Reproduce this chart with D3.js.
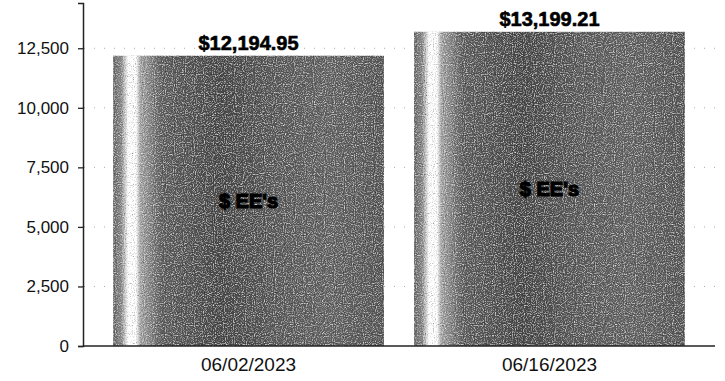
<!DOCTYPE html>
<html>
<head>
<meta charset="utf-8">
<script src="https://cdn.jsdelivr.net/npm/d3@7"></script>
<style>
  html, body { margin: 0; padding: 0; background: #fff; }
  svg { display: block; }
</style>
</head>
<body>
<script>
// ---- data ----
const categories = ["06/02/2023", "06/16/2023"];
const values = [12194.95, 13199.21];
const valueLabels = ["$12,194.95", "$13,199.21"];
const seriesName = "$ EE's";
const yTicks = [0, 2500, 5000, 7500, 10000, 12500];

// ---- layout ----
const W = 725, H = 381;
const svg = d3.select("body").append("svg").attr("width", W).attr("height", H);

const x = d3.scaleBand().domain(categories).range([83, 715]).paddingInner(0.1).paddingOuter(0.1);
const y = d3.scaleLinear().domain([0, 14400]).range([346, 3]);

const defs = svg.append("defs");
const grad = defs.append("linearGradient").attr("id", "barGrad").attr("x1", "0%").attr("x2", "100%");
[
  [0, "#6a6a6a"], [0.03, "#8a8a8a"], [0.045, "#d0d0d0"], [0.055, "#ffffff"], [0.085, "#ffffff"],
  [0.1, "#a8a8a8"], [0.18, "#606060"], [0.4, "#4a4a4a"], [0.6, "#5c5c5c"], [0.8, "#666"], [1, "#585858"]
].forEach(([o, c]) => grad.append("stop").attr("offset", o).attr("stop-color", c));

const f = defs.append("filter").attr("id", "grain").attr("x", 0).attr("y", 0).attr("width", 1).attr("height", 1);
f.append("feTurbulence").attr("type", "fractalNoise").attr("baseFrequency", 0.9).attr("numOctaves", 1).attr("seed", 3).attr("result", "noise");
f.append("feColorMatrix").attr("in", "noise").attr("type", "saturate").attr("values", 0).attr("result", "gray");
f.append("feComponentTransfer").attr("in", "gray").attr("result", "contrast")
  .call(g => ["R", "G", "B"].forEach(ch => g.append("feFunc" + ch).attr("type", "linear").attr("slope", 2.4).attr("intercept", -0.7)));
f.append("feBlend").attr("in", "SourceGraphic").attr("in2", "contrast").attr("mode", "overlay").attr("result", "blend");
f.append("feComposite").attr("in", "blend").attr("in2", "SourceGraphic").attr("operator", "in");

// gridlines (dotted, faint)
svg.append("g").selectAll("line").data(yTicks.filter(d => d > 0)).join("line")
  .attr("x1", 84).attr("x2", 715)
  .attr("y1", d => y(d)).attr("y2", d => y(d))
  .attr("stroke", "#aaa").attr("stroke-width", 1).attr("stroke-dasharray", "1,9");

// bars
svg.append("g").selectAll("rect").data(values).join("rect")
  .attr("x", (d, i) => x(categories[i]))
  .attr("y", d => y(d))
  .attr("width", x.bandwidth())
  .attr("height", d => y(0) - y(d))
  .attr("fill", "url(#barGrad)")
  .attr("filter", "url(#grain)");

// value labels
svg.append("g").selectAll("text").data(values).join("text")
  .attr("x", (d, i) => x(categories[i]) + x.bandwidth() / 2)
  .attr("y", d => y(d) - 6)
  .attr("text-anchor", "middle")
  .attr("font-family", "Liberation Sans, Arial, sans-serif")
  .attr("font-weight", "bold")
  .attr("font-size", 20)
  .attr("fill", "#000")
  .attr("stroke", "#000").attr("stroke-width", 0.6)
  .text((d, i) => valueLabels[i]);

// series labels inside bars
svg.append("g").selectAll("text").data(values).join("text")
  .attr("x", (d, i) => x(categories[i]) + x.bandwidth() / 2)
  .attr("y", d => (y(d) + y(0)) / 2)
  .attr("dy", "0.35em")
  .attr("text-anchor", "middle")
  .attr("font-family", "Liberation Sans, Arial, sans-serif")
  .attr("font-weight", "bold")
  .attr("font-size", 20)
  .attr("fill", "#000")
  .attr("stroke", "#000").attr("stroke-width", 1.2)
  .text(seriesName);

// y axis
const yAxis = d3.axisLeft(y).tickValues(yTicks).tickFormat(d3.format(",")).tickSize(5).tickPadding(9);
const ga = svg.append("g").attr("transform", "translate(83,0)").call(yAxis);
ga.select(".domain").attr("stroke", "#222").attr("stroke-width", 1.5);
ga.selectAll(".tick line").attr("stroke", "#222").attr("stroke-width", 1.3);
ga.selectAll(".tick text").attr("font-family", "Liberation Sans, Arial, sans-serif").attr("font-size", 17).attr("fill", "#111");

// x axis
const xAxis = d3.axisBottom(x).tickSize(0).tickPadding(12);
const gx = svg.append("g").attr("transform", "translate(0,346)").call(xAxis);
gx.select(".domain").attr("stroke", "#222").attr("stroke-width", 1.5).attr("d", "M83,0H715");
gx.selectAll(".tick text").attr("font-family", "Liberation Sans, Arial, sans-serif").attr("font-size", 19).attr("fill", "#111");
</script>
</body>
</html>
